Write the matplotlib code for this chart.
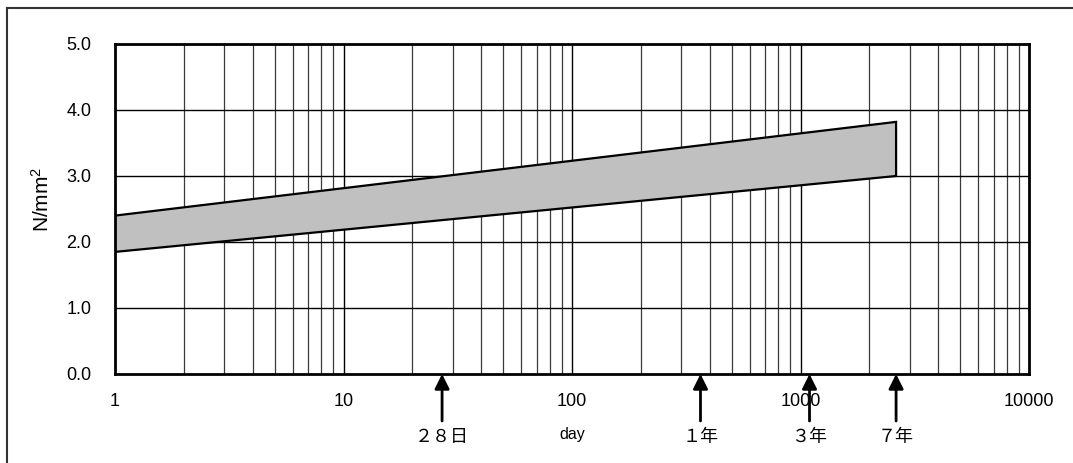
import numpy as np
import matplotlib
matplotlib.use("Agg")
import matplotlib.pyplot as plt
from matplotlib.lines import Line2D

plt.rcParams['font.family'] = ['Liberation Sans', 'Noto Sans CJK JP', 'DejaVu Sans']
plt.rcParams['mathtext.fontset'] = 'custom'
plt.rcParams['mathtext.rm'] = 'Liberation Sans'
plt.rcParams['mathtext.it'] = 'Liberation Sans'
plt.rcParams['mathtext.default'] = 'rm'

# Data
band_days = [1, 2620]
upper_vals = [2.40, 3.82]
lower_vals = [1.85, 3.00]
marker_days = [27, 365, 1095, 2620]
marker_labels = ["２８日", "１年", "３年", "７年"]
x_ticks = [1, 10, 100, 1000, 10000]
x_ticklabels = ["1", "10", "100", "1000", "10000"]
y_ticks = [0, 1, 2, 3, 4, 5]
y_ticklabels = ["0.0", "1.0", "2.0", "3.0", "4.0", "5.0"]

W, H = 1073, 463
fig = plt.figure(figsize=(W / 100, H / 100), dpi=100)
ax = fig.add_axes([115 / W, 1 - 374 / H, (1029 - 115) / W, (374 - 44) / H])
ax.set_xscale('log')
ax.set_xlim(1, 10000)
ax.set_ylim(0, 5)

# grid
minor = [m * 10 ** d for d in range(4) for m in range(2, 10)]
for v in minor:
    ax.axvline(v, color='#3a3a3a', lw=0.9, zorder=1)
for v in x_ticks[1:-1]:
    ax.axvline(v, color='black', lw=1.0, zorder=1)
for v in y_ticks[1:-1]:
    ax.axhline(v, color='black', lw=1.0, zorder=1)

# band
xs = np.array(band_days, dtype=float)
poly_x = [xs[0], xs[1], xs[1], xs[0]]
poly_y = [upper_vals[0], upper_vals[1], lower_vals[1], lower_vals[0]]
ax.fill(poly_x, poly_y, facecolor='#c0c0c0', edgecolor='black', lw=1.6, zorder=3)

for s in ax.spines.values():
    s.set_linewidth(2.0)
    s.set_zorder(5)

ax.set_xticks(x_ticks)
ax.set_xticklabels(x_ticklabels)
ax.xaxis.set_minor_locator(matplotlib.ticker.NullLocator())
ax.set_yticks(y_ticks)
ax.set_yticklabels(y_ticklabels)
ax.tick_params(length=0, labelsize=13, colors='black')
ax.tick_params(axis='x', pad=14)
ax.tick_params(axis='y', pad=17)

ax.set_ylabel("N/mm$^2$", fontsize=15)
ax.yaxis.set_label_coords(-62 / 914, 0.53)

# arrows and labels below axis
trans = ax.get_xaxis_transform()
for d, lab in zip(marker_days, marker_labels):
    ax.annotate("", xy=(d, 0), xycoords=trans,
                xytext=(d, -47 / 330), textcoords=trans,
                arrowprops=dict(arrowstyle='-|>', color='black', lw=2,
                                mutation_scale=22, shrinkA=0, shrinkB=0),
                annotation_clip=False, zorder=6)
    ax.text(d, -63 / 330, lab, transform=trans, ha='center', va='center',
            fontsize=13, family='Noto Sans CJK JP', clip_on=False)

ax.text(100, -61 / 330, "day", transform=trans, ha='center', va='center',
        fontsize=11.5, clip_on=False)

# figure frame (top and left visible)
fig.add_artist(Line2D([7 / W, 1.0], [1 - 8 / H, 1 - 8 / H], color='#333333', lw=1.5,
                      transform=fig.transFigure))
fig.add_artist(Line2D([7 / W, 7 / W], [0, 1 - 8 / H], color='#333333', lw=1.5,
                      transform=fig.transFigure))

fig.savefig("out.png", dpi=100)
